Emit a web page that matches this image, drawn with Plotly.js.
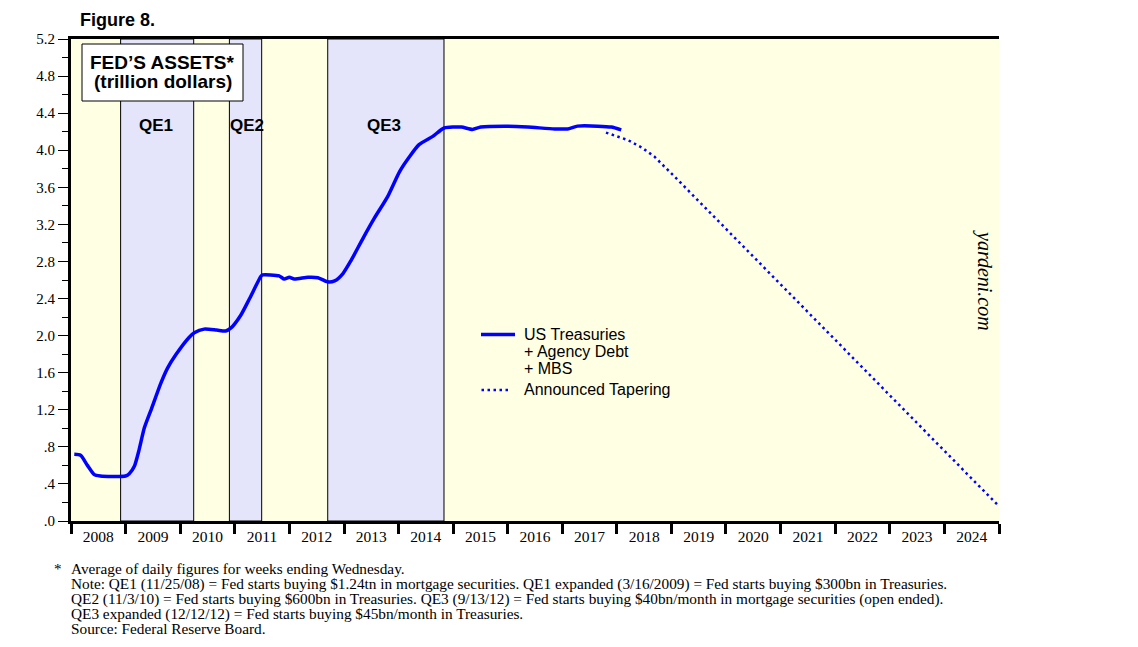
<!DOCTYPE html>
<html>
<head>
<meta charset="utf-8">
<script src="https://cdn.plot.ly/plotly-3.0.1.min.js"></script>
<style>
  html, body { margin: 0; padding: 0; background: #ffffff; }
  #chart { width: 1138px; height: 647px; }
</style>
</head>
<body>
<div id="chart"></div>
<script>
// ---- Data ----
const assetDates = [
  '2008-01-23','2008-03-05','2008-04-20','2008-06-05','2008-07-15','2008-10-01','2008-12-31',
  '2009-01-25','2009-02-28','2009-04-01','2009-05-05','2009-06-20','2009-08-25','2009-10-08','2009-12-01',
  '2010-03-01','2010-04-05','2010-06-10','2010-09-01','2010-11-01','2010-12-05',
  '2011-02-10','2011-04-10','2011-06-25','2011-07-05','2011-10-25','2011-11-28',
  '2012-01-01','2012-02-03','2012-05-05','2012-07-10','2012-09-12','2012-10-30','2012-12-25',
  '2013-02-17','2013-05-08','2013-07-24','2013-10-20',
  '2014-01-08','2014-03-15','2014-05-18','2014-08-18','2014-11-02',
  '2015-02-25','2015-05-10','2015-07-05','2015-12-10',
  '2016-05-15','2016-11-10',
  '2017-02-05','2017-04-12','2017-08-25','2017-11-25','2018-01-30'
];
const assetValues = [
  0.72, 0.71, 0.60, 0.50, 0.485, 0.48, 0.485,
  0.51, 0.59, 0.77, 1.00, 1.20, 1.49, 1.65, 1.79,
  1.98, 2.03, 2.07, 2.06, 2.05, 2.08,
  2.22, 2.40, 2.64, 2.655, 2.645, 2.61,
  2.63, 2.61, 2.63, 2.625, 2.58, 2.59, 2.67,
  2.81, 3.05, 3.27, 3.50,
  3.77, 3.93, 4.06, 4.15, 4.24,
  4.25, 4.225, 4.25, 4.26,
  4.25, 4.23,
  4.23, 4.26, 4.26, 4.25, 4.22
];
const taperDates = ['2017-10-20','2018-03-15','2018-06-15','2018-09-10','2019-02-25','2023-06-12','2024-12-25'];
const taperValues = [4.19, 4.11, 4.03, 3.93, 3.66, 1.09, 0.17];

const qeStart = ['2008-11-28','2010-11-26','2012-09-14'];
const qeEnd   = ['2010-04-01','2011-06-30','2014-11-01'];
const qeLabels = ['QE1','QE2','QE3'];

const yTickVals = [0, 0.4, 0.8, 1.2, 1.6, 2.0, 2.4, 2.8, 3.2, 3.6, 4.0, 4.4, 4.8, 5.2];
const yTickText = ['.0', '.4', '.8', '1.2', '1.6', '2.0', '2.4', '2.8', '3.2', '3.6', '4.0', '4.4', '4.8', '5.2'];

const seriesNames = ['US Treasuries', '+ Agency Debt', '+ MBS', 'Announced Tapering'];

const footnotes = [
  'Average of daily figures for weeks ending Wednesday.',
  'Note: QE1 (11/25/08) = Fed starts buying $1.24tn in mortgage securities. QE1 expanded (3/16/2009) = Fed starts buying $300bn in Treasuries.',
  'QE2 (11/3/10) = Fed starts buying $600bn in Treasuries. QE3 (9/13/12) = Fed starts buying $40bn/month in mortgage securities (open ended).',
  'QE3 expanded (12/12/12) = Fed starts buying $45bn/month in Treasuries.',
  'Source: Federal Reserve Board.'
];

// ---- Styles ----
const SANS = 'Liberation Sans, Arial, sans-serif';
const SERIF = 'Liberation Serif, Times New Roman, serif';
const BLUE = '#0000ff';
const YELLOW = '#ffffe4';
const LAVENDER = '#e4e4fa';
const SOLID = { color: BLUE, width: 3.5 };
const DOTTED = { color: BLUE, width: 2.5, dash: '2.5px,3.5px' };

// pixel -> paper helpers (plot area: x 71..999, y 39..521)
const px = v => (v - 71) / 928;
const py = v => (521 - v) / 482;

const traces = [
  {
    x: assetDates, y: assetValues, type: 'scatter', mode: 'lines',
    name: seriesNames.slice(0, 3).join(' '),
    line: Object.assign({ shape: 'spline', smoothing: 0.6 }, SOLID)
  },
  {
    x: taperDates, y: taperValues, type: 'scatter', mode: 'lines',
    name: seriesNames[3],
    line: DOTTED
  }
];

const shapes = [];
qeStart.forEach((s, i) => {
  shapes.push({
    type: 'rect', xref: 'x', yref: 'paper', x0: s, x1: qeEnd[i], y0: 0, y1: 1,
    fillcolor: LAVENDER, line: { color: '#000000', width: 1 }, layer: 'below'
  });
});
// title box
shapes.push({
  type: 'rect', xref: 'paper', yref: 'paper',
  x0: px(82), x1: px(243), y0: py(101), y1: py(44),
  fillcolor: '#ffffff', line: { color: '#000000', width: 1 }, layer: 'above'
});
// legend keys
shapes.push({ type: 'line', xref: 'paper', yref: 'paper', x0: px(481), x1: px(515), y0: py(334.5), y1: py(334.5), line: SOLID });
shapes.push({ type: 'line', xref: 'paper', yref: 'paper', x0: px(481.5), x1: px(509), y0: py(390), y1: py(390), line: DOTTED });

const qeLabelX = ['2009-07-24', '2011-03-26', '2013-09-27'];
const annotations = [];
qeLabels.forEach((t, i) => {
  annotations.push({
    text: '<b>' + t + '</b>', xref: 'x', yref: 'paper', x: qeLabelX[i], y: py(125.7),
    showarrow: false, xanchor: 'center', yanchor: 'middle',
    font: { family: SANS, size: 17, color: '#000000' }
  });
});
annotations.push({
  text: '<b>Figure 8.</b>', xref: 'paper', yref: 'paper', x: px(78), y: py(20.4),
  showarrow: false, xanchor: 'left', yanchor: 'middle',
  font: { family: SANS, size: 18, color: '#000000' }
});
annotations.push({
  text: '<b>FED\u2019S ASSETS*</b>', xref: 'paper', yref: 'paper', x: px(162.9), y: py(62.6),
  showarrow: false, xanchor: 'center', yanchor: 'middle',
  font: { family: SANS, size: 19, color: '#000000' }
});
annotations.push({
  text: '<b>(trillion dollars)</b>', xref: 'paper', yref: 'paper', x: px(162.9), y: py(81.6),
  showarrow: false, xanchor: 'center', yanchor: 'middle',
  font: { family: SANS, size: 19, color: '#000000' }
});
// legend text
const legendCenters = [334.4, 351.4, 368.4, 389.4];
seriesNames.forEach((t, i) => {
  annotations.push({
    text: t, xref: 'paper', yref: 'paper', x: px(522), y: py(legendCenters[i]),
    showarrow: false, xanchor: 'left', yanchor: 'middle',
    font: { family: SANS, size: 16, color: '#000000' }
  });
});
annotations.push({
  text: '<i>yardeni.com</i>', xref: 'paper', yref: 'paper', x: px(985), y: py(280),
  showarrow: false, xanchor: 'center', yanchor: 'middle', textangle: 90,
  font: { family: SERIF, size: 20, color: '#000000' }
});
annotations.push({
  text: '*', xref: 'paper', yref: 'paper', x: px(52), y: py(568.5),
  showarrow: false, xanchor: 'left', yanchor: 'middle',
  font: { family: SERIF, size: 15, color: '#000000' }
});
footnotes.forEach((t, i) => {
  annotations.push({
    text: t, xref: 'paper', yref: 'paper', x: px(69), y: py(568.5 + 15 * i),
    showarrow: false, xanchor: 'left', yanchor: 'middle',
    font: { family: SERIF, size: 15.3, color: '#000000' }
  });
});

const yAxisCommon = {
  range: [0, 5.2], tickmode: 'array', tickvals: yTickVals, ticktext: yTickText,
  ticks: 'outside', ticklen: 10, tickwidth: 1, tickcolor: '#000000',
  minor: { dtick: 0.2, tick0: 0, ticks: 'outside', ticklen: 6, tickwidth: 1, tickcolor: '#000000', showgrid: false },
  showline: true, linewidth: 3, linecolor: '#000000',
  showgrid: false, zeroline: false, fixedrange: true,
  tickfont: { family: SERIF, size: 15, color: '#000000' }
};

const layout = {
  width: 1138, height: 647,
  margin: { l: 71, r: 139, t: 39, b: 126, pad: 0 },
  paper_bgcolor: '#ffffff', plot_bgcolor: YELLOW,
  showlegend: false,
  xaxis: {
    type: 'date', range: ['2008-01-01', '2025-01-01'],
    tick0: '2008-01-01', dtick: 'M12', tickformat: '%Y', ticklabelmode: 'period',
    ticks: 'outside', ticklen: 10, tickwidth: 3, tickcolor: '#000000',
    ticklabelstandoff: -11,
    showline: true, linewidth: 3, linecolor: '#000000', mirror: true,
    showgrid: false, zeroline: false, fixedrange: true,
    tickfont: { family: SERIF, size: 15.5, color: '#000000' }
  },
  yaxis: Object.assign({}, yAxisCommon, { side: 'left' }),
  yaxis2: Object.assign({}, yAxisCommon, { side: 'right', overlaying: 'y' }),
  shapes: shapes,
  annotations: annotations
};

Plotly.newPlot('chart', traces, layout, { staticPlot: true, displayModeBar: false });
</script>
</body>
</html>
